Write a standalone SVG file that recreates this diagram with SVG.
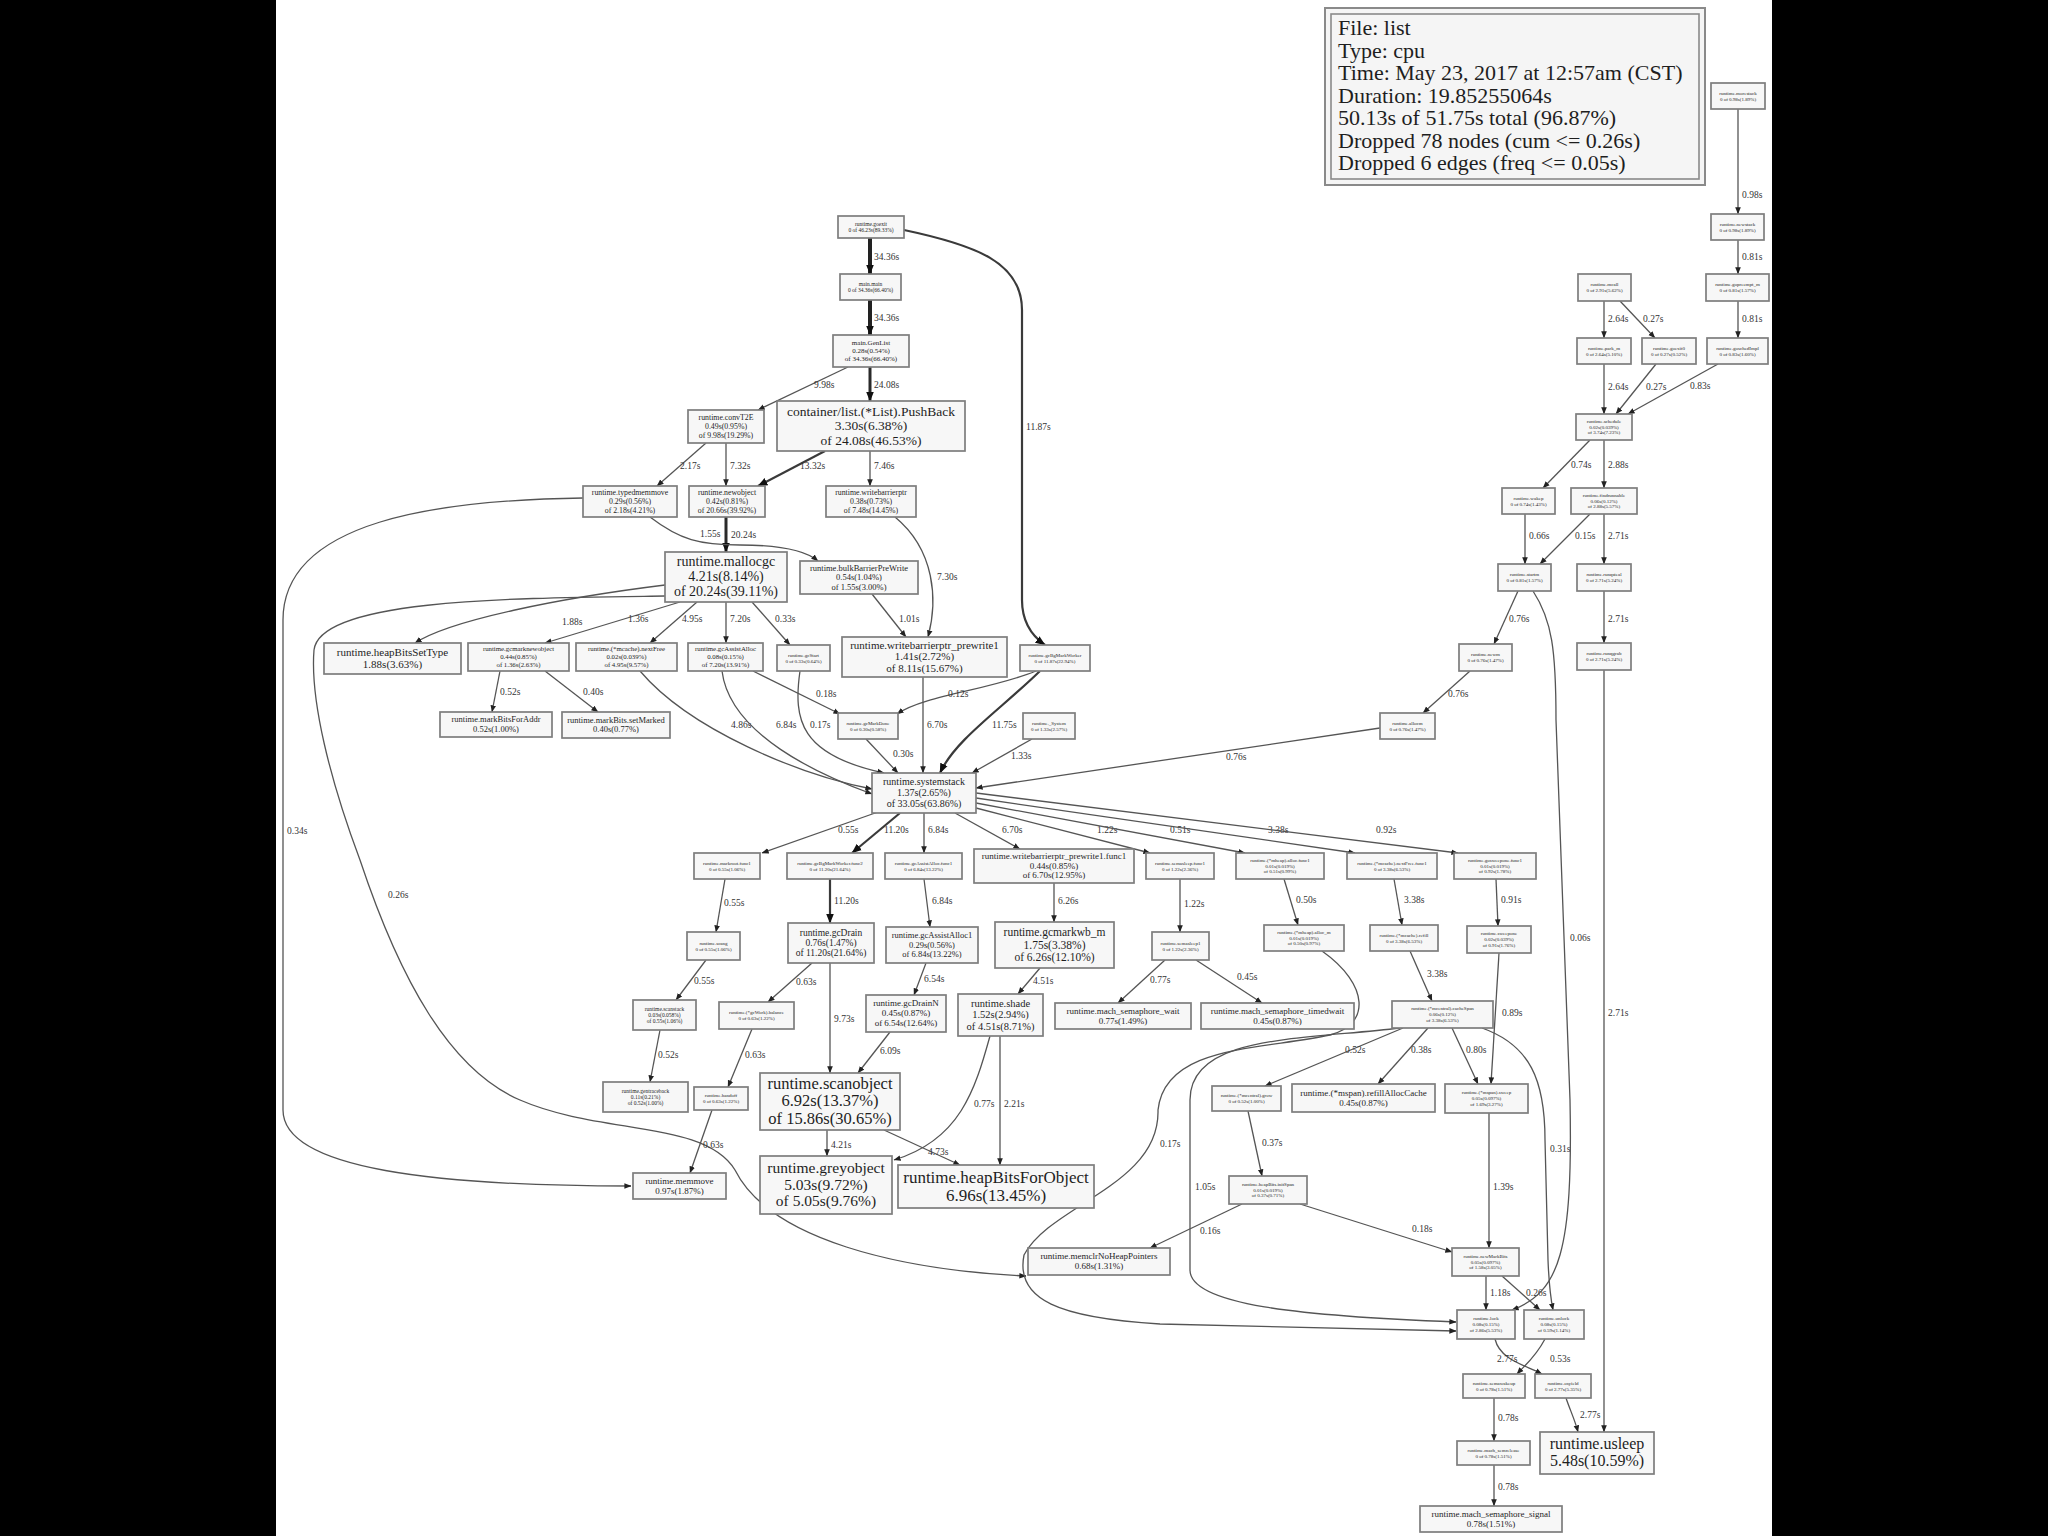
<svg xmlns="http://www.w3.org/2000/svg" width="2048" height="1536" viewBox="0 0 2048 1536">
<style>
.bg{fill:#000}
.pg{fill:#fff}
.nd rect{fill:#f7f7f7;stroke:#7d7d7d;stroke-width:1.7}
.nd text{font-family:"Liberation Serif","Times New Roman",serif;fill:#1e1e1e;text-anchor:middle}
.lg{fill:#f5f5f5;stroke:#8a8a8a;stroke-width:2}
.lgi{fill:none;stroke:#8a8a8a;stroke-width:1.6}
.lt{font-family:"Liberation Serif","Times New Roman",serif;font-size:22px;fill:#1e1e1e}
.e path{fill:none;stroke:#555;stroke-width:1.3;marker-end:url(#a)}
.e path.w2{stroke:#3a3a3a;stroke-width:2.2;marker-end:url(#A)}
.e path.w3{stroke:#2a2a2a;stroke-width:3;marker-end:url(#A)}
.e path.w4{stroke:#222;stroke-width:4;marker-end:url(#A)}
.e text{font-family:"Liberation Serif","Times New Roman",serif;font-size:9.5px;fill:#333}
.f5{font-size:5px}.f55{font-size:5.5px}.f68{font-size:6.8px}.f7{font-size:7px}.f78{font-size:7.8px}
.f85{font-size:8.5px}.f9{font-size:9px}.f95{font-size:9.5px}.f10{font-size:10px}.f105{font-size:10.5px}
.f11{font-size:11px}.f115{font-size:11.5px}.f135{font-size:13.5px}.f14{font-size:14px}.f155{font-size:15.5px}
.f16{font-size:16px}.f165{font-size:16.5px}.f17{font-size:17px}
</style>
<defs>
<marker id="a" markerUnits="userSpaceOnUse" markerWidth="7" markerHeight="7" viewBox="0 0 10 10" refX="9.5" refY="5" orient="auto"><path d="M0,1 L10,5 L0,9 z" fill="#222"/></marker>
<marker id="A" markerUnits="userSpaceOnUse" markerWidth="10" markerHeight="10" viewBox="0 0 10 10" refX="9.5" refY="5" orient="auto"><path d="M0,1 L10,5 L0,9 z" fill="#111"/></marker>
</defs>
<rect class="bg" x="0" y="0" width="2048" height="1536"/>
<rect class="pg" x="276" y="0" width="1496" height="1536"/>

<g id="legend">
<rect class="lg" x="1325" y="8" width="380" height="177"/>
<rect class="lgi" x="1331" y="14" width="368" height="165"/>
<text class="lt" x="1338" y="35">File: list</text>
<text class="lt" x="1338" y="57.5">Type: cpu</text>
<text class="lt" x="1338" y="80">Time: May 23, 2017 at 12:57am (CST)</text>
<text class="lt" x="1338" y="102.5">Duration: 19.85255064s</text>
<text class="lt" x="1338" y="125">50.13s of 51.75s total (96.87%)</text>
<text class="lt" x="1338" y="147.5">Dropped 78 nodes (cum &lt;= 0.26s)</text>
<text class="lt" x="1338" y="170">Dropped 6 edges (freq &lt;= 0.05s)</text>
</g>

<g id="edges" class="e">
<path class="w4" d="M870,238 L870,274"/><text x="874" y="260">34.36s</text>
<path class="w4" d="M870,300 L870,335"/><text x="874" y="321">34.36s</text>
<path class="w3" d="M870,367 L870,401"/><text x="874" y="388">24.08s</text>
<path d="M848,367 L758,410"/><text x="814" y="388">9.98s</text>
<path class="w2" d="M904,230 C975,245 1022,262 1022,310 L1022,600 C1022,625 1035,638 1045,645"/><text x="1026" y="430">11.87s</text>
<path d="M706,443 L657,486"/><text x="680" y="469">2.17s</text>
<path d="M726,443 L726,486"/><text x="730" y="469">7.32s</text>
<path class="w2" d="M825,451 L758,486"/><text x="800" y="469">13.32s</text>
<path d="M870,451 L870,486"/><text x="874" y="469">7.46s</text>
<path class="w3" d="M726,517 L726,552"/><text x="731" y="538">20.24s</text>
<path d="M650,517 C680,540 700,545 740,545 C780,545 805,550 818,561"/><text x="700" y="537">1.55s</text>
<path d="M895,517 C935,550 938,600 928,637"/><text x="937" y="580">7.30s</text>
<path d="M872,594 L906,637"/><text x="899" y="622">1.01s</text>
<path d="M665,585 C560,598 450,620 415,643"/><text x="562" y="625">1.88s</text>
<path d="M680,602 L545,643"/><text x="628" y="622">1.36s</text>
<path d="M697,602 L650,643"/><text x="682" y="622">4.95s</text>
<path d="M726,602 L726,643"/><text x="730" y="622">7.20s</text>
<path d="M752,602 L790,645"/><text x="775" y="622">0.33s</text>
<path d="M500,671 L492,712"/><text x="500" y="695">0.52s</text>
<path d="M545,671 L598,712"/><text x="583" y="695">0.40s</text>
<path d="M753,671 L840,714"/><text x="816" y="697">0.18s</text>
<path d="M1036,671 C990,690 925,695 897,714"/><text x="948" y="697">0.12s</text>
<path d="M640,671 C690,730 800,775 872,789"/><text x="731" y="728">4.86s</text>
<path d="M722,671 C730,735 820,775 872,794"/><text x="776" y="728">6.84s</text>
<path d="M800,671 C793,720 800,755 884,773"/><text x="810" y="728">0.17s</text>
<path d="M866,739 L898,773"/><text x="893" y="757">0.30s</text>
<path d="M923,677 L923,773"/><text x="927" y="728">6.70s</text>
<path class="w2" d="M1040,671 C1000,710 955,740 940,773"/><text x="992" y="728">11.75s</text>
<path d="M1032,739 L972,773"/><text x="1011" y="759">1.33s</text>
<path d="M1380,728 L976,788"/><text x="1226" y="760">0.76s</text>
<path d="M583,498 C440,500 283,520 283,620 L283,1110 C283,1170 440,1186 631,1186"/><text x="287" y="834">0.34s</text>
<path d="M665,596 C520,598 320,598 314,650 C310,700 330,780 360,860 C400,980 450,1070 520,1100 C600,1135 705,1120 735,1170 C770,1240 900,1270 1026,1276"/><text x="388" y="898">0.26s</text>
<path d="M878,812 L762,853"/><text x="838" y="833">0.55s</text>
<path class="w2" d="M900,813 L852,853"/><text x="884" y="833">11.20s</text>
<path d="M924,813 L924,853"/><text x="928" y="833">6.84s</text>
<path d="M955,813 L1020,849"/><text x="1002" y="833">6.70s</text>
<path d="M976,808 L1150,853"/><text x="1097" y="833">1.22s</text>
<path d="M976,803 L1245,853"/><text x="1170" y="833">0.51s</text>
<path d="M976,798 L1355,853"/><text x="1268" y="833">3.38s</text>
<path d="M976,793 L1458,853"/><text x="1376" y="833">0.92s</text>
<path d="M725,879 L716,932"/><text x="724" y="906">0.55s</text>
<path class="w2" d="M830,879 L830,923"/><text x="834" y="904">11.20s</text>
<path d="M924,879 L930,927"/><text x="932" y="904">6.84s</text>
<path d="M1054,883 L1054,922"/><text x="1058" y="904">6.26s</text>
<path d="M1180,879 L1180,932"/><text x="1184" y="907">1.22s</text>
<path d="M1284,879 L1298,925"/><text x="1296" y="903">0.50s</text>
<path d="M1394,879 L1402,925"/><text x="1404" y="903">3.38s</text>
<path d="M1496,879 L1498,926"/><text x="1501" y="903">0.91s</text>
<path d="M706,960 L676,1000"/><text x="694" y="984">0.55s</text>
<path d="M812,963 L768,1002"/><text x="796" y="985">0.63s</text>
<path d="M830,963 L830,1073"/><text x="834" y="1022">9.73s</text>
<path d="M926,963 L914,995"/><text x="924" y="982">6.54s</text>
<path d="M1040,968 L1018,994"/><text x="1033" y="984">4.51s</text>
<path d="M1165,960 L1118,1003"/><text x="1150" y="983">0.77s</text>
<path d="M1196,960 L1262,1003"/><text x="1237" y="980">0.45s</text>
<path d="M1410,951 L1432,1001"/><text x="1427" y="977">3.38s</text>
<path d="M1499,953 L1491,1084"/><text x="1502" y="1016">0.89s</text>
<path d="M660,1030 L650,1082"/><text x="658" y="1058">0.52s</text>
<path d="M752,1029 L728,1087"/><text x="745" y="1058">0.63s</text>
<path d="M890,1032 L858,1073"/><text x="880" y="1054">6.09s</text>
<path d="M712,1110 L690,1173"/><text x="703" y="1148">0.63s</text>
<path d="M827,1130 L827,1156"/><text x="831" y="1148">4.21s</text>
<path d="M884,1130 L960,1165"/><text x="928" y="1155">4.73s</text>
<path d="M990,1036 C975,1090 960,1140 894,1160"/><text x="974" y="1107">0.77s</text>
<path d="M1000,1036 L1000,1165"/><text x="1004" y="1107">2.21s</text>
<path d="M1403,1028 L1265,1086"/><text x="1345" y="1053">0.52s</text>
<path d="M1428,1028 L1378,1084"/><text x="1411" y="1053">0.38s</text>
<path d="M1452,1028 L1478,1084"/><text x="1466" y="1053">0.80s</text>
<path d="M1482,1028 C1530,1045 1545,1080 1545,1140 L1548,1260 C1549,1285 1551,1300 1553,1310"/><text x="1550" y="1152">0.31s</text>
<path d="M1400,1028 C1300,1040 1190,1035 1190,1100 L1190,1270 C1190,1305 1300,1316 1456,1322"/><text x="1195" y="1190">1.05s</text>
<path d="M1322,951 C1370,985 1370,1025 1330,1035 C1260,1050 1165,1045 1158,1110 C1160,1185 1050,1205 1024,1255 C1015,1300 1060,1318 1160,1324 L1456,1331"/><text x="1160" y="1147">0.17s</text>
<path d="M1248,1111 L1262,1176"/><text x="1262" y="1146">0.37s</text>
<path d="M1242,1204 L1150,1248"/><text x="1200" y="1234">0.16s</text>
<path d="M1300,1204 L1452,1252"/><text x="1412" y="1232">0.18s</text>
<path d="M1489,1113 L1489,1248"/><text x="1493" y="1190">1.39s</text>
<path d="M1486,1276 L1486,1310"/><text x="1490" y="1296">1.18s</text>
<path d="M1502,1276 L1540,1310"/><text x="1526" y="1296">0.26s</text>
<path d="M1533,591 C1552,620 1556,650 1556,720 L1570,1100 C1573,1250 1560,1292 1512,1310"/><text x="1570" y="941">0.06s</text>
<path d="M1495,1339 C1500,1360 1525,1365 1542,1374"/><text x="1497" y="1362">2.77s</text>
<path d="M1545,1339 C1535,1358 1525,1365 1517,1374"/><text x="1550" y="1362">0.53s</text>
<path d="M1494,1398 L1494,1441"/><text x="1498" y="1421">0.78s</text>
<path d="M1494,1465 L1494,1506"/><text x="1498" y="1490">0.78s</text>
<path d="M1566,1398 C1570,1410 1575,1420 1578,1432"/><text x="1580" y="1418">2.77s</text>
<path d="M1604,670 L1604,1432"/><text x="1608" y="1016">2.71s</text>
<path d="M1738,109 L1738,214"/><text x="1742" y="198">0.98s</text>
<path d="M1738,240 L1738,274"/><text x="1742" y="260">0.81s</text>
<path d="M1738,301 L1738,338"/><text x="1742" y="322">0.81s</text>
<path d="M1718,364 L1628,414"/><text x="1690" y="389">0.83s</text>
<path d="M1604,301 L1604,338"/><text x="1608" y="322">2.64s</text>
<path d="M1620,301 L1655,338"/><text x="1643" y="322">0.27s</text>
<path d="M1604,364 L1604,414"/><text x="1608" y="390">2.64s</text>
<path d="M1656,364 L1616,414"/><text x="1646" y="390">0.27s</text>
<path d="M1590,440 L1543,488"/><text x="1571" y="468">0.74s</text>
<path d="M1604,440 L1604,488"/><text x="1608" y="468">2.88s</text>
<path d="M1525,514 L1525,564"/><text x="1529" y="539">0.66s</text>
<path d="M1590,514 L1540,564"/><text x="1575" y="539">0.15s</text>
<path d="M1604,514 L1604,564"/><text x="1608" y="539">2.71s</text>
<path d="M1518,591 L1494,644"/><text x="1509" y="622">0.76s</text>
<path d="M1604,591 L1604,643"/><text x="1608" y="622">2.71s</text>
<path d="M1470,671 L1423,713"/><text x="1448" y="697">0.76s</text>
</g>

<g id="goexit" class="nd"><rect x="838" y="216" width="66" height="22"/><text class="f55" x="871" y="225.6">runtime.goexit</text><text class="f55" x="871" y="231.9">0 of 46.23s(89.33%)</text></g>
<g id="main_main" class="nd"><rect x="840" y="274" width="61" height="26"/><text class="f55" x="870.5" y="285.6">main.main</text><text class="f55" x="870.5" y="291.9">0 of 34.36s(66.40%)</text></g>
<g id="genlist" class="nd"><rect x="833" y="335" width="76" height="32"/><text class="f7" x="871" y="345.2">main.GenList</text><text class="f7" x="871" y="353.2">0.28s(0.54%)</text><text class="f7" x="871" y="361.2">of 34.36s(66.40%)</text></g>
<g id="pushback" class="nd"><rect x="777" y="401" width="188" height="50"/><text class="f135" x="871" y="415.6">container/list.(*List).PushBack</text><text class="f135" x="871" y="430.1">3.30s(6.38%)</text><text class="f135" x="871" y="444.6">of 24.08s(46.53%)</text></g>
<g id="convT2E" class="nd"><rect x="688" y="410" width="76" height="33"/><text class="f78" x="726" y="420">runtime.convT2E</text><text class="f78" x="726" y="429">0.49s(0.95%)</text><text class="f78" x="726" y="438">of 9.98s(19.29%)</text></g>
<g id="typedmemmove" class="nd"><rect x="583" y="486" width="94" height="31"/><text class="f78" x="630" y="495">runtime.typedmemmove</text><text class="f78" x="630" y="504">0.29s(0.56%)</text><text class="f78" x="630" y="513">of 2.18s(4.21%)</text></g>
<g id="newobject" class="nd"><rect x="689" y="486" width="76" height="31"/><text class="f78" x="727" y="495">runtime.newobject</text><text class="f78" x="727" y="504">0.42s(0.81%)</text><text class="f78" x="727" y="513">of 20.66s(39.92%)</text></g>
<g id="writebarrierptr" class="nd"><rect x="826" y="486" width="90" height="31"/><text class="f78" x="871" y="495">runtime.writebarrierptr</text><text class="f78" x="871" y="504">0.38s(0.73%)</text><text class="f78" x="871" y="513">of 7.48s(14.45%)</text></g>
<g id="mallocgc" class="nd"><rect x="665" y="552" width="122" height="50"/><text class="f14" x="726" y="566.2">runtime.mallocgc</text><text class="f14" x="726" y="581.2">4.21s(8.14%)</text><text class="f14" x="726" y="596.2">of 20.24s(39.11%)</text></g>
<g id="bulkBarrierPreWrite" class="nd"><rect x="800" y="561" width="118" height="33"/><text class="f85" x="859" y="570.7">runtime.bulkBarrierPreWrite</text><text class="f85" x="859" y="580.2">0.54s(1.04%)</text><text class="f85" x="859" y="589.7">of 1.55s(3.00%)</text></g>
<g id="heapBitsSetType" class="nd"><rect x="324" y="643" width="137" height="31"/><text class="f11" x="392.5" y="655.9">runtime.heapBitsSetType</text><text class="f11" x="392.5" y="667.9">1.88s(3.63%)</text></g>
<g id="gcmarknewobject" class="nd"><rect x="468" y="643" width="101" height="28"/><text class="f68" x="518.5" y="651.4">runtime.gcmarknewobject</text><text class="f68" x="518.5" y="659.2">0.44s(0.85%)</text><text class="f68" x="518.5" y="667">of 1.36s(2.63%)</text></g>
<g id="nextFree" class="nd"><rect x="576" y="643" width="101" height="28"/><text class="f68" x="626.5" y="651.4">runtime.(*mcache).nextFree</text><text class="f68" x="626.5" y="659.2">0.02s(0.039%)</text><text class="f68" x="626.5" y="667">of 4.95s(9.57%)</text></g>
<g id="gcAssistAlloc" class="nd"><rect x="688" y="643" width="75" height="28"/><text class="f68" x="725.5" y="651.4">runtime.gcAssistAlloc</text><text class="f68" x="725.5" y="659.2">0.08s(0.15%)</text><text class="f68" x="725.5" y="667">of 7.20s(13.91%)</text></g>
<g id="gcStart" class="nd"><rect x="777" y="645" width="53" height="26"/><text class="f5" x="803.5" y="656.5">runtime.gcStart</text><text class="f5" x="803.5" y="662.5">0 of 0.33s(0.64%)</text></g>
<g id="prewrite1" class="nd"><rect x="842" y="637" width="165" height="40"/><text class="f11" x="924.5" y="648.7">runtime.writebarrierptr_prewrite1</text><text class="f11" x="924.5" y="660.2">1.41s(2.72%)</text><text class="f11" x="924.5" y="671.7">of 8.11s(15.67%)</text></g>
<g id="gcBgMarkWorker" class="nd"><rect x="1020" y="645" width="70" height="26"/><text class="f5" x="1055" y="656.5">runtime.gcBgMarkWorker</text><text class="f5" x="1055" y="662.5">0 of 11.87s(22.94%)</text></g>
<g id="markBitsForAddr" class="nd"><rect x="440" y="712" width="112" height="25"/><text class="f85" x="496" y="722.4">runtime.markBitsForAddr</text><text class="f85" x="496" y="731.9">0.52s(1.00%)</text></g>
<g id="setMarked" class="nd"><rect x="562" y="712" width="108" height="26"/><text class="f85" x="616" y="722.9">runtime.markBits.setMarked</text><text class="f85" x="616" y="732.4">0.40s(0.77%)</text></g>
<g id="gcMarkDone" class="nd"><rect x="838" y="713" width="60" height="26"/><text class="f5" x="868" y="724.5">runtime.gcMarkDone</text><text class="f5" x="868" y="730.5">0 of 0.30s(0.58%)</text></g>
<g id="System" class="nd"><rect x="1023" y="713" width="52" height="26"/><text class="f5" x="1049" y="724.5">runtime._System</text><text class="f5" x="1049" y="730.5">0 of 1.33s(2.57%)</text></g>
<g id="allocm" class="nd"><rect x="1380" y="713" width="55" height="26"/><text class="f5" x="1407.5" y="724.5">runtime.allocm</text><text class="f5" x="1407.5" y="730.5">0 of 0.76s(1.47%)</text></g>
<g id="systemstack" class="nd"><rect x="872" y="773" width="104" height="40"/><text class="f10" x="924" y="785.2">runtime.systemstack</text><text class="f10" x="924" y="796">1.37s(2.65%)</text><text class="f10" x="924" y="806.8">of 33.05s(63.86%)</text></g>
<g id="markroot_func1" class="nd"><rect x="694" y="853" width="66" height="26"/><text class="f5" x="727" y="864.5">runtime.markroot.func1</text><text class="f5" x="727" y="870.5">0 of 0.55s(1.06%)</text></g>
<g id="gcBgMarkWorker_func2" class="nd"><rect x="787" y="853" width="86" height="26"/><text class="f5" x="830" y="864.5">runtime.gcBgMarkWorker.func2</text><text class="f5" x="830" y="870.5">0 of 11.20s(21.64%)</text></g>
<g id="gcAssistAlloc_func1" class="nd"><rect x="885" y="853" width="77" height="26"/><text class="f5" x="923.5" y="864.5">runtime.gcAssistAlloc.func1</text><text class="f5" x="923.5" y="870.5">0 of 6.84s(13.22%)</text></g>
<g id="prewrite1_func1" class="nd"><rect x="974" y="849" width="160" height="34"/><text class="f9" x="1054" y="859">runtime.writebarrierptr_prewrite1.func1</text><text class="f9" x="1054" y="868.7">0.44s(0.85%)</text><text class="f9" x="1054" y="878.4">of 6.70s(12.95%)</text></g>
<g id="semasleep_func1" class="nd"><rect x="1146" y="853" width="68" height="26"/><text class="f5" x="1180" y="864.5">runtime.semasleep.func1</text><text class="f5" x="1180" y="870.5">0 of 1.22s(2.36%)</text></g>
<g id="mheap_alloc_func1" class="nd"><rect x="1236" y="853" width="88" height="26"/><text class="f5" x="1280" y="861.8">runtime.(*mheap).alloc.func1</text><text class="f5" x="1280" y="867.6">0.01s(0.019%)</text><text class="f5" x="1280" y="873.4">of 0.51s(0.99%)</text></g>
<g id="nextFree_func1" class="nd"><rect x="1347" y="853" width="90" height="26"/><text class="f5" x="1392" y="864.5">runtime.(*mcache).nextFree.func1</text><text class="f5" x="1392" y="870.5">0 of 3.38s(6.53%)</text></g>
<g id="gosweepone_func1" class="nd"><rect x="1454" y="853" width="82" height="26"/><text class="f5" x="1495" y="861.8">runtime.gosweepone.func1</text><text class="f5" x="1495" y="867.6">0.01s(0.019%)</text><text class="f5" x="1495" y="873.4">of 0.92s(1.78%)</text></g>
<g id="scang" class="nd"><rect x="687" y="932" width="53" height="28"/><text class="f5" x="713.5" y="944.5">runtime.scang</text><text class="f5" x="713.5" y="950.5">0 of 0.55s(1.06%)</text></g>
<g id="gcDrain" class="nd"><rect x="788" y="923" width="86" height="40"/><text class="f95" x="831" y="935.6">runtime.gcDrain</text><text class="f95" x="831" y="945.9">0.76s(1.47%)</text><text class="f95" x="831" y="956.2">of 11.20s(21.64%)</text></g>
<g id="gcAssistAlloc1" class="nd"><rect x="886" y="927" width="92" height="36"/><text class="f85" x="932" y="938.2">runtime.gcAssistAlloc1</text><text class="f85" x="932" y="947.7">0.29s(0.56%)</text><text class="f85" x="932" y="957.2">of 6.84s(13.22%)</text></g>
<g id="gcmarkwb_m" class="nd"><rect x="995" y="922" width="119" height="46"/><text class="f115" x="1054.5" y="936">runtime.gcmarkwb_m</text><text class="f115" x="1054.5" y="948.5">1.75s(3.38%)</text><text class="f115" x="1054.5" y="961">of 6.26s(12.10%)</text></g>
<g id="semasleep1" class="nd"><rect x="1152" y="932" width="57" height="28"/><text class="f5" x="1180.5" y="944.5">runtime.semasleep1</text><text class="f5" x="1180.5" y="950.5">0 of 1.22s(2.36%)</text></g>
<g id="mheap_alloc_m" class="nd"><rect x="1264" y="925" width="80" height="26"/><text class="f5" x="1304" y="933.8">runtime.(*mheap).alloc_m</text><text class="f5" x="1304" y="939.6">0.01s(0.019%)</text><text class="f5" x="1304" y="945.4">of 0.50s(0.97%)</text></g>
<g id="mcache_refill" class="nd"><rect x="1370" y="925" width="68" height="26"/><text class="f5" x="1404" y="936.5">runtime.(*mcache).refill</text><text class="f5" x="1404" y="942.5">0 of 3.38s(6.53%)</text></g>
<g id="sweepone" class="nd"><rect x="1467" y="926" width="64" height="27"/><text class="f5" x="1499" y="935.3">runtime.sweepone</text><text class="f5" x="1499" y="941.1">0.02s(0.039%)</text><text class="f5" x="1499" y="946.9">of 0.91s(1.76%)</text></g>
<g id="scanstack" class="nd"><rect x="633" y="1000" width="63" height="30"/><text class="f55" x="664.5" y="1010.5">runtime.scanstack</text><text class="f55" x="664.5" y="1016.8">0.03s(0.058%)</text><text class="f55" x="664.5" y="1023.1">of 0.55s(1.06%)</text></g>
<g id="gcWork_balance" class="nd"><rect x="719" y="1002" width="75" height="27"/><text class="f5" x="756.5" y="1014">runtime.(*gcWork).balance</text><text class="f5" x="756.5" y="1020">0 of 0.63s(1.22%)</text></g>
<g id="gcDrainN" class="nd"><rect x="866" y="995" width="80" height="37"/><text class="f9" x="906" y="1006.4">runtime.gcDrainN</text><text class="f9" x="906" y="1016.2">0.45s(0.87%)</text><text class="f9" x="906" y="1026">of 6.54s(12.64%)</text></g>
<g id="shade" class="nd"><rect x="958" y="994" width="85" height="42"/><text class="f105" x="1000.5" y="1006.9">runtime.shade</text><text class="f105" x="1000.5" y="1018.2">1.52s(2.94%)</text><text class="f105" x="1000.5" y="1029.5">of 4.51s(8.71%)</text></g>
<g id="mach_semaphore_wait" class="nd"><rect x="1055" y="1003" width="136" height="26"/><text class="f9" x="1123" y="1013.8">runtime.mach_semaphore_wait</text><text class="f9" x="1123" y="1023.6">0.77s(1.49%)</text></g>
<g id="mach_semaphore_timedwait" class="nd"><rect x="1201" y="1003" width="153" height="26"/><text class="f9" x="1277.5" y="1013.8">runtime.mach_semaphore_timedwait</text><text class="f9" x="1277.5" y="1023.6">0.45s(0.87%)</text></g>
<g id="mcentral_cacheSpan" class="nd"><rect x="1392" y="1001" width="101" height="27"/><text class="f5" x="1442.5" y="1010.3">runtime.(*mcentral).cacheSpan</text><text class="f5" x="1442.5" y="1016.1">0.06s(0.12%)</text><text class="f5" x="1442.5" y="1021.9">of 3.38s(6.53%)</text></g>
<g id="gentraceback" class="nd"><rect x="603" y="1082" width="85" height="30"/><text class="f55" x="645.5" y="1092.5">runtime.gentraceback</text><text class="f55" x="645.5" y="1098.8">0.11s(0.21%)</text><text class="f55" x="645.5" y="1105.1">of 0.52s(1.00%)</text></g>
<g id="handoff" class="nd"><rect x="694" y="1087" width="54" height="23"/><text class="f5" x="721" y="1097">runtime.handoff</text><text class="f5" x="721" y="1103">0 of 0.63s(1.22%)</text></g>
<g id="scanobject" class="nd"><rect x="760" y="1073" width="140" height="57"/><text class="f165" x="830" y="1088.9">runtime.scanobject</text><text class="f165" x="830" y="1106.4">6.92s(13.37%)</text><text class="f165" x="830" y="1123.9">of 15.86s(30.65%)</text></g>
<g id="mcentral_grow" class="nd"><rect x="1212" y="1086" width="69" height="25"/><text class="f5" x="1246.5" y="1097">runtime.(*mcentral).grow</text><text class="f5" x="1246.5" y="1103">0 of 0.52s(1.00%)</text></g>
<g id="refillAllocCache" class="nd"><rect x="1292" y="1084" width="143" height="28"/><text class="f9" x="1363.5" y="1095.8">runtime.(*mspan).refillAllocCache</text><text class="f9" x="1363.5" y="1105.6">0.45s(0.87%)</text></g>
<g id="mspan_sweep" class="nd"><rect x="1445" y="1084" width="83" height="29"/><text class="f5" x="1486.5" y="1094.3">runtime.(*mspan).sweep</text><text class="f5" x="1486.5" y="1100.1">0.05s(0.097%)</text><text class="f5" x="1486.5" y="1105.9">of 1.69s(3.27%)</text></g>
<g id="greyobject" class="nd"><rect x="760" y="1156" width="132" height="58"/><text class="f155" x="826" y="1173.3">runtime.greyobject</text><text class="f155" x="826" y="1189.5">5.03s(9.72%)</text><text class="f155" x="826" y="1205.7">of 5.05s(9.76%)</text></g>
<g id="heapBitsForObject" class="nd"><rect x="898" y="1165" width="196" height="43"/><text class="f17" x="996" y="1182.5">runtime.heapBitsForObject</text><text class="f17" x="996" y="1200.5">6.96s(13.45%)</text></g>
<g id="memmove" class="nd"><rect x="633" y="1173" width="93" height="26"/><text class="f9" x="679.5" y="1183.8">runtime.memmove</text><text class="f9" x="679.5" y="1193.6">0.97s(1.87%)</text></g>
<g id="initSpan" class="nd"><rect x="1229" y="1176" width="78" height="28"/><text class="f5" x="1268" y="1185.8">runtime.heapBits.initSpan</text><text class="f5" x="1268" y="1191.6">0.01s(0.019%)</text><text class="f5" x="1268" y="1197.4">of 0.37s(0.71%)</text></g>
<g id="memclrNoHeapPointers" class="nd"><rect x="1028" y="1248" width="142" height="27"/><text class="f9" x="1099" y="1259.3">runtime.memclrNoHeapPointers</text><text class="f9" x="1099" y="1269.1">0.68s(1.31%)</text></g>
<g id="newMarkBits" class="nd"><rect x="1452" y="1248" width="67" height="28"/><text class="f5" x="1485.5" y="1257.8">runtime.newMarkBits</text><text class="f5" x="1485.5" y="1263.6">0.05s(0.097%)</text><text class="f5" x="1485.5" y="1269.4">of 1.58s(3.05%)</text></g>
<g id="lock" class="nd"><rect x="1457" y="1310" width="58" height="29"/><text class="f5" x="1486" y="1320.3">runtime.lock</text><text class="f5" x="1486" y="1326.1">0.08s(0.15%)</text><text class="f5" x="1486" y="1331.9">of 2.86s(5.53%)</text></g>
<g id="unlock" class="nd"><rect x="1524" y="1310" width="60" height="29"/><text class="f5" x="1554" y="1320.3">runtime.unlock</text><text class="f5" x="1554" y="1326.1">0.08s(0.15%)</text><text class="f5" x="1554" y="1331.9">of 0.59s(1.14%)</text></g>
<g id="semawakeup" class="nd"><rect x="1463" y="1374" width="62" height="24"/><text class="f5" x="1494" y="1384.5">runtime.semawakeup</text><text class="f5" x="1494" y="1390.5">0 of 0.78s(1.51%)</text></g>
<g id="osyield" class="nd"><rect x="1535" y="1374" width="56" height="24"/><text class="f5" x="1563" y="1384.5">runtime.osyield</text><text class="f5" x="1563" y="1390.5">0 of 2.77s(5.35%)</text></g>
<g id="usleep" class="nd"><rect x="1540" y="1432" width="114" height="42"/><text class="f16" x="1597" y="1448.5">runtime.usleep</text><text class="f16" x="1597" y="1465.5">5.48s(10.59%)</text></g>
<g id="mach_semrelease" class="nd"><rect x="1457" y="1441" width="73" height="24"/><text class="f5" x="1493.5" y="1451.5">runtime.mach_semrelease</text><text class="f5" x="1493.5" y="1457.5">0 of 0.78s(1.51%)</text></g>
<g id="mach_semaphore_signal" class="nd"><rect x="1420" y="1506" width="142" height="26"/><text class="f9" x="1491" y="1516.8">runtime.mach_semaphore_signal</text><text class="f9" x="1491" y="1526.6">0.78s(1.51%)</text></g>
<g id="morestack" class="nd"><rect x="1711" y="83" width="54" height="26"/><text class="f5" x="1738" y="94.5">runtime.morestack</text><text class="f5" x="1738" y="100.5">0 of 0.98s(1.89%)</text></g>
<g id="newstack" class="nd"><rect x="1711" y="214" width="53" height="26"/><text class="f5" x="1737.5" y="225.5">runtime.newstack</text><text class="f5" x="1737.5" y="231.5">0 of 0.98s(1.89%)</text></g>
<g id="gopreempt_m" class="nd"><rect x="1706" y="274" width="63" height="27"/><text class="f5" x="1737.5" y="286">runtime.gopreempt_m</text><text class="f5" x="1737.5" y="292">0 of 0.81s(1.57%)</text></g>
<g id="goschedImpl" class="nd"><rect x="1707" y="338" width="61" height="26"/><text class="f5" x="1737.5" y="349.5">runtime.goschedImpl</text><text class="f5" x="1737.5" y="355.5">0 of 0.83s(1.60%)</text></g>
<g id="mcall" class="nd"><rect x="1578" y="274" width="53" height="27"/><text class="f5" x="1604.5" y="286">runtime.mcall</text><text class="f5" x="1604.5" y="292">0 of 2.91s(5.62%)</text></g>
<g id="park_m" class="nd"><rect x="1577" y="338" width="54" height="26"/><text class="f5" x="1604" y="349.5">runtime.park_m</text><text class="f5" x="1604" y="355.5">0 of 2.64s(5.10%)</text></g>
<g id="goexit0" class="nd"><rect x="1642" y="338" width="54" height="26"/><text class="f5" x="1669" y="349.5">runtime.goexit0</text><text class="f5" x="1669" y="355.5">0 of 0.27s(0.52%)</text></g>
<g id="schedule" class="nd"><rect x="1576" y="414" width="56" height="26"/><text class="f5" x="1604" y="422.8">runtime.schedule</text><text class="f5" x="1604" y="428.6">0.02s(0.039%)</text><text class="f5" x="1604" y="434.4">of 3.74s(7.23%)</text></g>
<g id="wakep" class="nd"><rect x="1502" y="488" width="53" height="26"/><text class="f5" x="1528.5" y="499.5">runtime.wakep</text><text class="f5" x="1528.5" y="505.5">0 of 0.74s(1.43%)</text></g>
<g id="findrunnable" class="nd"><rect x="1571" y="488" width="66" height="26"/><text class="f5" x="1604" y="496.8">runtime.findrunnable</text><text class="f5" x="1604" y="502.6">0.06s(0.12%)</text><text class="f5" x="1604" y="508.4">of 2.88s(5.57%)</text></g>
<g id="startm" class="nd"><rect x="1498" y="564" width="53" height="27"/><text class="f5" x="1524.5" y="576">runtime.startm</text><text class="f5" x="1524.5" y="582">0 of 0.81s(1.57%)</text></g>
<g id="runqsteal" class="nd"><rect x="1577" y="564" width="54" height="27"/><text class="f5" x="1604" y="576">runtime.runqsteal</text><text class="f5" x="1604" y="582">0 of 2.71s(5.24%)</text></g>
<g id="newm" class="nd"><rect x="1459" y="644" width="53" height="27"/><text class="f5" x="1485.5" y="656">runtime.newm</text><text class="f5" x="1485.5" y="662">0 of 0.76s(1.47%)</text></g>
<g id="runqgrab" class="nd"><rect x="1577" y="643" width="54" height="27"/><text class="f5" x="1604" y="655">runtime.runqgrab</text><text class="f5" x="1604" y="661">0 of 2.71s(5.24%)</text></g>
</svg>
